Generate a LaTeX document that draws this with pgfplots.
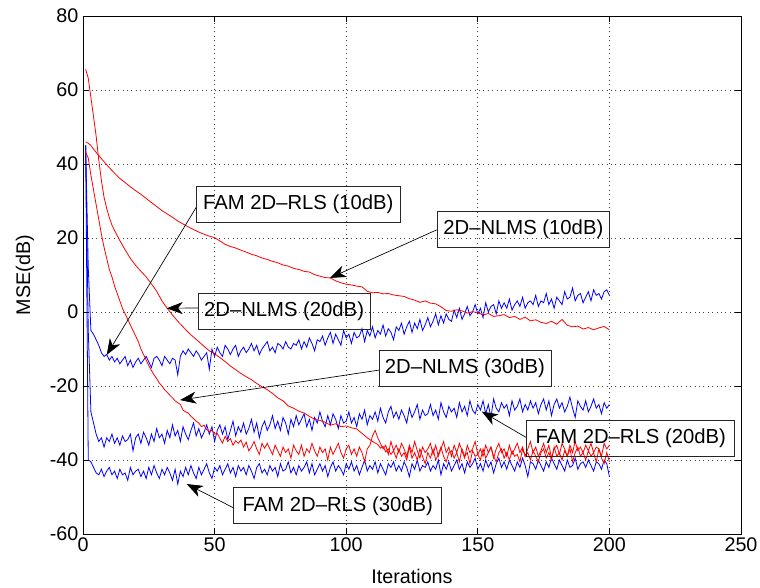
\documentclass[border=0pt]{standalone}
\usepackage{fontspec}
\setmainfont{Liberation Sans}
\usepackage{pgfplots}
\pgfplotsset{compat=1.18}
\usepackage{pgfplotstable}
\usetikzlibrary{arrows.meta}

\pgfplotstableread{
it b10 b20 b30
1 45 45 45
2 12 -5 -40
3 -5 -27 -40.5
4 -6 -30 -42
5 -7.5 -33 -43.5
6 -9 -35 -44
7 -11 -34 -42.5
8 -12 -36.5 -44.5
9 -11.5 -34 -43
10 -13 -35 -42
11 -12 -33 -44
12 -13.5 -35.5 -43
13 -12.5 -34 -45
14 -14 -36 -42.5
15 -13 -33.5 -44
16 -12 -35 -43.5
17 -14.5 -34.5 -45.5
18 -13 -33 -42
19 -15 -37.5 -44
20 -13.5 -34 -43
21 -12.5 -33 -42.5
22 -14 -35.5 -44.5
23 -13 -32.5 -43
24 -12 -34 -45
25 -13.5 -36 -42
26 -15 -33 -44
27 -12.5 -35 -41.5
28 -12 -31.5 -43.5
29 -13 -34 -45
30 -14.5 -33 -42.5
31 -12 -35.5 -44
32 -13 -32 -42
33 -14 -34 -43.5
34 -12.5 -30.5 -45.5
35 -13 -33.5 -42.5
36 -17 -32 -46.5
37 -12 -35 -43
38 -10.5 -31 -44.5
39 -11.5 -33 -42
40 -10 -34.5 -44
41 -11 -32 -41.5
42 -12 -30 -43.5
43 -10.5 -33.5 -45
44 -11.5 -31.5 -42
45 -13 -34 -44
46 -12 -32.5 -42.5
47 -11 -30.5 -41
48 -15.5 -33 -43.5
49 -10 -31 -45
50 -12 -35 -42
51 -9.5 -32 -43
52 -11 -30.5 -41.5
53 -12 -33 -44
54 -9 -31 -42.5
55 -10 -34.5 -41
56 -11.5 -32 -43.5
57 -10 -29.5 -42
58 -9 -33.5 -44.5
59 -12 -31 -41.5
60 -10.5 -32.5 -43
61 -9.5 -30 -42
62 -11 -33 -44
63 -10 -31.5 -41.5
64 -8.5 -29 -43
65 -10.5 -32.5 -45
66 -9 -30 -42
67 -11.5 -34 -41
68 -10 -31 -43.5
69 -9 -29.5 -42.5
70 -8 -32 -44
71 -10.5 -30.5 -41.5
72 -9.5 -28 -43
73 -11 -31.5 -42
74 -8.5 -29.5 -44.5
75 -9 -32 -41
76 -10 -28.5 -43
77 -8 -30 -42.5
78 -9.5 -33 -40.5
79 -10 -29 -43.5
80 -8.5 -31 -42
81 -9 -28 -44
82 -7.5 -30.5 -41.5
83 -10 -29 -43
84 -8 -27.5 -42
85 -9.5 -31 -40.5
86 -7 -29 -43.5
87 -8.5 -32 -41
88 -10.5 -28.5 -44
89 -7.5 -30 -42.5
90 -8 -27 -41
91 -6.5 -29.5 -43
92 -9 -31 -41.5
93 -7 -28 -44.5
94 -5.5 -30.5 -42
95 -8.5 -27.5 -40.5
96 -6 -29 -43
97 -7.5 -31.5 -41.5
98 -9 -28 -42.5
99 -5 -30 -44
100 -7 -29.5 -41
101 -6 -27 -42.5
102 -8.5 -30 -40.5
103 -5.5 -28.5 -43
104 -7 -31 -41.5
105 -6.5 -27.5 -44
106 -4.5 -29 -42
107 -8 -26.5 -40
108 -5 -30.5 -43
109 -6.5 -28 -41.5
110 -4 -29 -42.5
111 -7 -27 -40.5
112 -5 -29.5 -43.5
113 -6 -26 -41
114 -3.5 -28.5 -42.5
115 -6.5 -30 -44
116 -4.5 -27 -41
117 -5.5 -25.5 -42
118 -7.5 -28.5 -40.5
119 -4 -27 -43
120 -5 -29 -41.5
121 -3 -26.5 -43
122 -6 -28 -40.5
123 -4 -30 -42
124 -2.5 -26 -44.5
125 -5.5 -28.5 -41
126 -3 -27 -42.5
127 -4.5 -25 -40
128 -2 -29 -43
129 -5 -26.5 -41.5
130 -3.5 -28 -42
131 -1.5 -27.5 -40.5
132 -4 -25 -43
133 -2.5 -28 -41.5
134 -0.5 -26.5 -42.5
135 -3.5 -29 -40
136 -1 -24.5 -44
137 -3 -27 -41
138 -0.5 -28.5 -42.5
139 -2 -25.5 -40.5
140 -2.5 -27 -43
141 0.5 -26 -41.5
142 -1.5 -28.5 -40
143 1 -24.5 -42.5
144 -2 -27 -41
145 -0.5 -25.5 -43.5
146 1.5 -28 -40.5
147 -1 -24 -42
148 0 -26.5 -41
149 2 -27.5 -39.5
150 -0.5 -25 -42.5
151 1 -26.5 -41
152 -1.5 -24 -43
153 2.5 -27.5 -40
154 0 -25 -42
155 1.5 -28.5 -40.5
156 2 -23.5 -43.5
157 -0.5 -26 -41
158 3 -27 -39.5
159 1 -24.5 -42
160 2.5 -26 -40.5
161 1 -25 -42.5
162 3.5 -28 -40
163 0.5 -24 -41.5
164 2 -26.5 -43
165 3 -25.5 -40.5
166 1.5 -23.5 -42
167 4 -27 -39.5
168 1 -25 -41.5
169 2.5 -26.5 -44.5
170 3 -24 -40.5
171 2 -26 -41
172 4.5 -24.5 -42.5
173 1.5 -27.5 -40
174 3 -25 -41.5
175 2.5 -23.5 -43
176 5 -26.5 -40.5
177 2 -24 -42
178 3.5 -28 -39.5
179 1 -25 -41
180 4 -23.5 -42.5
181 3 -26 -40
182 2 -24.5 -41.5
183 5.5 -27 -43
184 3.5 -25.5 -40
185 4 -23 -42
186 6.5 -26 -41.5
187 3 -28.5 -39.5
188 4.5 -24 -42.5
189 5 -25.5 -41
190 2.5 -26.5 -40.5
191 4 -24 -42
192 5.5 -27 -40
193 3 -25.5 -41.5
194 6 -23.5 -43
195 4.5 -26 -40.5
196 5 -25 -41
197 3.5 -27.5 -42.5
198 5.5 -24.5 -40
199 6 -26 -41
200 4.5 -25 -44.5
}\bluetab

\pgfplotstableread{
x y
1 46
2 45.6
3 45
4 44
6 42.3
8 40.6
10 39
12 37.5
14 36.1
16 35
18 33.8
20 32.8
22 31.8
24 30.7
26 29.6
28 28.5
30 27.4
32 26.5
34 25.6
36 24.6
38 23.8
40 23
42 22.3
44 21.6
46 21
48 20.5
50 20.1
52 19.2
54 18.3
56 17.7
58 17.3
60 16.7
62 16.2
64 15.6
66 15.2
68 14.6
70 14.2
72 13.7
74 13.3
76 12.7
78 12.4
80 11.8
82 11.5
84 11
86 10.8
88 10.1
90 9.7
92 9.3
94 9.2
96 8.4
98 7.9
100 7.5
102 7.3
104 7
106 6.8
108 5.6
110 5.2
112 5.3
114 4.9
116 5
118 4.6
120 4.4
122 4.2
124 3.6
126 3.2
128 2.6
130 3
132 2.4
134 2.2
136 1.4
138 0.4
140 0.2
142 0.6
144 0.3
146 -0.3
148 0.1
150 -0.2
152 -0.8
154 -0.4
156 -1.2
158 -1
160 -0.7
162 -1.5
164 -1.2
166 -2
168 -1.4
170 -2.4
172 -2.1
174 -2.8
176 -3.1
178 -2.5
180 -3.3
182 -2
184 -3.6
186 -4
188 -3.8
190 -4.6
192 -4.2
194 -4.8
196 -4.3
198 -3.9
200 -4.8
}\redten

\pgfplotstableread{
x y
1 65.6
2 63.2
3 58
4 52.8
5 47.5
6 41
7 35.5
8 31
9 28
10 25.5
11 23.5
12 22
14 19.3
16 16.8
18 14.5
20 12.6
22 11
24 9.5
26 7.6
28 5.6
30 3
32 1
34 -0.8
36 -2.5
38 -4
40 -5.5
42 -6.8
44 -8
46 -9.3
48 -10.5
50 -11.3
52 -12.3
54 -13.4
56 -14.6
58 -15.6
60 -16.6
62 -17.5
64 -18.3
66 -19.3
68 -20.2
70 -21
72 -22
74 -23.2
76 -24
78 -25.4
80 -26
82 -26.8
84 -27.3
86 -28.2
88 -29
90 -29.3
92 -29.8
94 -30.6
96 -30.2
98 -31
100 -30.8
102 -31.3
104 -31.6
106 -32.8
108 -34
110 -35
112 -35.8
113 -36.8
114 -36.3
115 -37.8
116 -37
117 -38.5
118 -37.5
119 -39.5
120 -37
121 -39
122 -38
123 -40
124 -36.5
125 -39.5
126 -38
127 -40
128 -37
129 -39
130 -41
131 -38
132 -39.5
133 -37
134 -40
135 -38.5
136 -36.5
137 -39
138 -40.5
139 -38
140 -37.5
141 -39.5
142 -38
143 -40.5
144 -37
145 -39
146 -38
147 -41
148 -37.5
149 -39
150 -38.5
151 -40
152 -37
153 -39.5
154 -38
155 -36.5
156 -39
157 -40.5
158 -38
159 -37
160 -39.5
161 -38
162 -40
163 -37.5
164 -39
165 -38.5
166 -40.5
167 -37
168 -39
169 -38
170 -40
171 -37.5
172 -39
173 -40.5
174 -38
175 -37
176 -39.5
177 -38
178 -40
179 -36.5
180 -39
181 -38
182 -40
183 -37.5
184 -39
185 -37
186 -40.5
187 -38
188 -36.5
189 -39
190 -38
191 -40
192 -37.5
193 -39
194 -38
195 -40.5
196 -37
197 -39.5
198 -41
199 -38
200 -40.5
}\redtwenty

\pgfplotstableread{
x y
1 43.3
2 41.6
3 37
4 33
5 29
6 25
7 21
8 17.5
9 14.5
10 11.5
11 9.5
12 7
13 5
14 3
15 1
16 -0.5
17 -2
18 -3.5
19 -5
20 -6.5
21 -8
22 -10
23 -11.5
24 -13
25 -14.5
26 -15.8
27 -17
28 -18
29 -19.2
30 -20
31 -21
32 -21.7
33 -22.5
34 -23.2
35 -24
36 -24.5
37 -25
38 -26.5
39 -27
40 -27.3
41 -28.2
42 -28.8
43 -29.5
44 -30
45 -31
46 -30.6
47 -31.8
48 -32.3
49 -31.9
50 -33
51 -32.8
52 -34.2
53 -35.4
54 -33.6
55 -35
56 -34.2
57 -36
58 -34.8
59 -35.5
60 -34.6
61 -36.5
62 -35.2
63 -37.5
64 -36.5
65 -35
66 -37
67 -38.5
68 -35.5
69 -36.8
70 -35.5
71 -37
72 -38.5
73 -36
74 -37.5
75 -39
76 -36.5
77 -38
78 -37
79 -39.5
80 -36
81 -37.5
82 -38.5
83 -36
84 -39
85 -37
86 -38
87 -35.5
88 -37.5
89 -39
90 -36.5
91 -38
92 -37
93 -40
94 -36.5
95 -38.5
96 -37
97 -35.5
98 -38
99 -39.5
100 -37
101 -36
102 -38.5
103 -37
104 -39
105 -36.5
106 -38
107 -40.5
108 -37
109 -36
110 -33.5
111 -32
112 -34
113 -35.5
114 -37
115 -36
116 -38.5
117 -35
118 -37.5
119 -36
120 -38
121 -35.5
122 -37
123 -39
124 -36
125 -38
126 -35
127 -37.5
128 -39.5
129 -36.5
130 -38
131 -37
132 -35.5
133 -38.5
134 -36
135 -39
136 -37
137 -35
138 -38
139 -36.5
140 -39
141 -36
142 -38
143 -35.5
144 -37.5
145 -39.5
146 -36
147 -38
148 -37
149 -35
150 -38.5
151 -37
152 -39
153 -36
154 -38
155 -36.5
156 -39.5
157 -37
158 -35.5
159 -38
160 -37
161 -39
162 -36
163 -38.5
164 -37
165 -35.5
166 -38
167 -36.5
168 -39
169 -37
170 -35
171 -38
172 -36.5
173 -39
174 -37.5
175 -35.5
176 -38
177 -36
178 -39.5
179 -37
180 -36
181 -38.5
182 -35.5
183 -37
184 -39
185 -36
186 -38
187 -35
188 -37.5
189 -36.5
190 -38
191 -36
192 -37.5
193 -35.5
194 -38
195 -36.5
196 -37
197 -39
198 -35.5
199 -37
200 -36
}\redthirty

\begin{document}
\begin{tikzpicture}
\useasboundingbox (-62.25pt,-40.5pt) rectangle (507.75pt,400.5pt);
\begin{axis}[
  at={(0,0)}, anchor=south west,
  scale only axis, width=493.5pt, height=388.5pt,
  xmin=0, xmax=250, ymin=-60, ymax=80,
  xtick={0,50,...,250}, ytick={-60,-40,...,80},
  grid=major,
  major grid style={dash pattern=on 0.7pt off 2.6pt, black!75, line width=0.5pt},
  tick align=inside, major tick length=4.5pt,
  axis line style={line width=0.6pt},
  tick style={line width=0.6pt, black},
  /pgf/number format/assume math mode=true,
  tick label style={font=\fontsize{14.8}{17}\selectfont},
  xticklabel style={yshift=1pt},
  xlabel={Iterations}, ylabel={MSE(dB)},
  every axis x label/.style={at={(axis description cs:0.5,-0.0824)}, anchor=center, font=\fontsize{14.8}{17}\selectfont},
  every axis y label/.style={at={(axis description cs:-0.0881,0.5)}, anchor=center, rotate=90, font=\fontsize{14.8}{17}\selectfont},
  clip=true,
]
\addplot[blue, line width=0.6pt] table[x=it, y=b10] {\bluetab};
\addplot[blue, line width=0.6pt] table[x=it, y=b20] {\bluetab};
\addplot[blue, line width=0.6pt] table[x=it, y=b30] {\bluetab};
\addplot[red, line width=0.6pt] table[x=x, y=y] {\redten};
\addplot[red, line width=0.6pt] table[x=x, y=y] {\redtwenty};
\addplot[red, line width=0.6pt] table[x=x, y=y] {\redthirty};

\tikzset{
  arr/.style={line width=0.5pt, black, -{Stealth[length=12pt,width=9pt,inset=3.5pt]}},
  lbl/.style={draw=black!85, line width=0.6pt, minimum height=27pt, inner xsep=4pt, font=\fontsize{15.2}{18}\selectfont},
}
\draw[arr] (axis cs:43.2,28.5) -- (axis cs:9,-11.6);
\draw[arr] (axis cs:134.4,22.2) -- (axis cs:93.8,9.2);
\draw[arr] (axis cs:43.8,1.1) -- (axis cs:31.8,1);
\draw[arr] (axis cs:112.5,-15.7) -- (axis cs:36.9,-23.8);
\draw[arr] (axis cs:168.6,-34) -- (axis cs:151.5,-26.9);
\draw[arr] (axis cs:57.4,-53) -- (axis cs:39.4,-46.5);

\node[lbl, minimum width=153pt] at (axis cs:81.8,29) {FAM 2D--RLS (10dB)};
\node[lbl, minimum width=129pt] at (axis cs:167.3,22.35) {2D--NLMS (10dB)};
\node[lbl, minimum width=129pt] at (axis cs:76.4,0.08) {2D--NLMS (20dB)};
\node[lbl, minimum width=129pt] at (axis cs:145.1,-15.3) {2D--NLMS (30dB)};
\node[lbl, minimum width=156pt] at (axis cs:208.1,-34.1) {FAM 2D--RLS (20dB)};
\node[lbl, minimum width=156pt] at (axis cs:96.8,-52.4) {FAM 2D--RLS (30dB)};
\end{axis}
\end{tikzpicture}
\end{document}
